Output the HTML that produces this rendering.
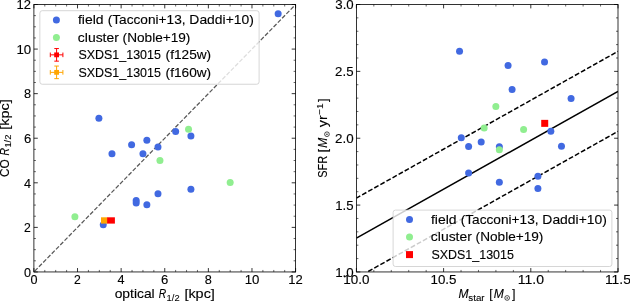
<!DOCTYPE html>
<html><head><meta charset="utf-8"><title>figure</title>
<style>
html,body{margin:0;padding:0;background:#fff;}
svg{display:block;font-family:"Liberation Sans",sans-serif;will-change:transform;}
</style></head>
<body>
<svg width="630" height="304" viewBox="0 0 630 304">
<rect width="630" height="304" fill="#fff"/>
<rect x="33.9" y="4.5" width="261.70" height="267.45" fill="#fff"/>
<path d="M33.90 271.95L295.60 4.50" stroke="#585858" stroke-width="1.25" stroke-dasharray="4.25 1.85" stroke-dashoffset="5.0" fill="none"/>
<circle cx="278.15" cy="13.64" r="3.5" fill="#4169e1"/>
<circle cx="98.89" cy="118.14" r="3.5" fill="#4169e1"/>
<circle cx="111.97" cy="153.71" r="3.5" fill="#4169e1"/>
<circle cx="131.60" cy="144.82" r="3.5" fill="#4169e1"/>
<circle cx="142.94" cy="153.71" r="3.5" fill="#4169e1"/>
<circle cx="146.87" cy="140.37" r="3.5" fill="#4169e1"/>
<circle cx="157.99" cy="147.04" r="3.5" fill="#4169e1"/>
<circle cx="175.65" cy="131.48" r="3.5" fill="#4169e1"/>
<circle cx="190.92" cy="135.93" r="3.5" fill="#4169e1"/>
<circle cx="136.18" cy="200.40" r="3.5" fill="#4169e1"/>
<circle cx="136.18" cy="203.07" r="3.5" fill="#4169e1"/>
<circle cx="146.87" cy="204.85" r="3.5" fill="#4169e1"/>
<circle cx="157.99" cy="193.73" r="3.5" fill="#4169e1"/>
<circle cx="190.92" cy="189.29" r="3.5" fill="#4169e1"/>
<circle cx="103.25" cy="224.86" r="3.5" fill="#4169e1"/>
<circle cx="74.90" cy="216.63" r="3.5" fill="#90ee90"/>
<circle cx="159.95" cy="160.38" r="3.5" fill="#90ee90"/>
<circle cx="188.52" cy="129.26" r="3.5" fill="#90ee90"/>
<circle cx="230.18" cy="182.62" r="3.5" fill="#90ee90"/>
<rect x="101.0" y="217.3" width="6.4" height="6.3" fill="#ffa500"/>
<rect x="107.1" y="217.3" width="7.8" height="6.3" fill="#ff0000"/>
<path d="M33.90 271.95v-3.9M33.90 4.50v3.9M77.52 271.95v-3.9M77.52 4.50v3.9M121.13 271.95v-3.9M121.13 4.50v3.9M164.75 271.95v-3.9M164.75 4.50v3.9M208.37 271.95v-3.9M208.37 4.50v3.9M251.98 271.95v-3.9M251.98 4.50v3.9M295.60 271.95v-3.9M295.60 4.50v3.9M33.90 271.95h3.9M295.60 271.95h-3.9M33.90 227.38h3.9M295.60 227.38h-3.9M33.90 182.80h3.9M295.60 182.80h-3.9M33.90 138.22h3.9M295.60 138.22h-3.9M33.90 93.65h3.9M295.60 93.65h-3.9M33.90 49.08h3.9M295.60 49.08h-3.9M33.90 4.50h3.9M295.60 4.50h-3.9" stroke="#000" stroke-width="0.8" fill="none"/>
<path d="M44.80 271.95v-2.0M44.80 4.50v2.0M55.71 271.95v-2.0M55.71 4.50v2.0M66.61 271.95v-2.0M66.61 4.50v2.0M88.42 271.95v-2.0M88.42 4.50v2.0M99.33 271.95v-2.0M99.33 4.50v2.0M110.23 271.95v-2.0M110.23 4.50v2.0M132.04 271.95v-2.0M132.04 4.50v2.0M142.94 271.95v-2.0M142.94 4.50v2.0M153.85 271.95v-2.0M153.85 4.50v2.0M175.65 271.95v-2.0M175.65 4.50v2.0M186.56 271.95v-2.0M186.56 4.50v2.0M197.46 271.95v-2.0M197.46 4.50v2.0M219.27 271.95v-2.0M219.27 4.50v2.0M230.18 271.95v-2.0M230.18 4.50v2.0M241.08 271.95v-2.0M241.08 4.50v2.0M262.89 271.95v-2.0M262.89 4.50v2.0M273.79 271.95v-2.0M273.79 4.50v2.0M284.70 271.95v-2.0M284.70 4.50v2.0M33.90 260.81h2.0M295.60 260.81h-2.0M33.90 249.66h2.0M295.60 249.66h-2.0M33.90 238.52h2.0M295.60 238.52h-2.0M33.90 216.23h2.0M295.60 216.23h-2.0M33.90 205.09h2.0M295.60 205.09h-2.0M33.90 193.94h2.0M295.60 193.94h-2.0M33.90 171.66h2.0M295.60 171.66h-2.0M33.90 160.51h2.0M295.60 160.51h-2.0M33.90 149.37h2.0M295.60 149.37h-2.0M33.90 127.08h2.0M295.60 127.08h-2.0M33.90 115.94h2.0M295.60 115.94h-2.0M33.90 104.79h2.0M295.60 104.79h-2.0M33.90 82.51h2.0M295.60 82.51h-2.0M33.90 71.36h2.0M295.60 71.36h-2.0M33.90 60.22h2.0M295.60 60.22h-2.0M33.90 37.93h2.0M295.60 37.93h-2.0M33.90 26.79h2.0M295.60 26.79h-2.0M33.90 15.64h2.0M295.60 15.64h-2.0" stroke="#000" stroke-width="0.6" fill="none"/>
<text x="30.41" y="283.75" font-size="12.25" textLength="7.02" lengthAdjust="spacingAndGlyphs" fill="#000" stroke="#000" stroke-width="0.12">0</text>
<text x="73.99" y="283.75" font-size="12.25" textLength="6.80" lengthAdjust="spacingAndGlyphs" fill="#000" stroke="#000" stroke-width="0.12">2</text>
<text x="117.60" y="283.75" font-size="12.25" textLength="7.06" lengthAdjust="spacingAndGlyphs" fill="#000" stroke="#000" stroke-width="0.12">4</text>
<text x="161.13" y="283.75" font-size="12.25" textLength="7.28" lengthAdjust="spacingAndGlyphs" fill="#000" stroke="#000" stroke-width="0.12">6</text>
<text x="204.82" y="283.75" font-size="12.25" textLength="7.09" lengthAdjust="spacingAndGlyphs" fill="#000" stroke="#000" stroke-width="0.12">8</text>
<text x="244.65" y="283.75" font-size="12.25" textLength="14.74" lengthAdjust="spacingAndGlyphs" fill="#000" stroke="#000" stroke-width="0.12">10</text>
<text x="288.29" y="283.75" font-size="12.25" textLength="14.48" lengthAdjust="spacingAndGlyphs" fill="#000" stroke="#000" stroke-width="0.12">12</text>
<text x="24.14" y="276.70" font-size="12.25" textLength="7.02" lengthAdjust="spacingAndGlyphs" fill="#000" stroke="#000" stroke-width="0.12">0</text>
<text x="24.10" y="232.12" font-size="12.25" textLength="6.80" lengthAdjust="spacingAndGlyphs" fill="#000" stroke="#000" stroke-width="0.12">2</text>
<text x="24.10" y="187.55" font-size="12.25" textLength="7.06" lengthAdjust="spacingAndGlyphs" fill="#000" stroke="#000" stroke-width="0.12">4</text>
<text x="24.01" y="142.97" font-size="12.25" textLength="7.28" lengthAdjust="spacingAndGlyphs" fill="#000" stroke="#000" stroke-width="0.12">6</text>
<text x="24.08" y="98.40" font-size="12.25" textLength="7.09" lengthAdjust="spacingAndGlyphs" fill="#000" stroke="#000" stroke-width="0.12">8</text>
<text x="16.49" y="53.83" font-size="12.25" textLength="14.74" lengthAdjust="spacingAndGlyphs" fill="#000" stroke="#000" stroke-width="0.12">10</text>
<text x="16.50" y="9.25" font-size="12.25" textLength="14.48" lengthAdjust="spacingAndGlyphs" fill="#000" stroke="#000" stroke-width="0.12">12</text>
<rect x="33.90" y="4.50" width="261.70" height="267.45" fill="none" stroke="#000" stroke-width="0.8"/>
<rect x="39.85" y="10.7" width="219.25" height="73.55" rx="2.4" fill="#fff" fill-opacity="0.8" stroke="#ccc" stroke-opacity="0.8" stroke-width="1"/>
<circle cx="56.4" cy="20.1" r="3.5" fill="#4169e1"/>
<circle cx="56.4" cy="37.6" r="3.5" fill="#90ee90"/>
<path d="M50.300000000000004 54.85H62.9M56.6 48.550000000000004V61.15M50.300000000000004 52.550000000000004v4.6M62.9 52.550000000000004v4.6M54.300000000000004 48.550000000000004h4.6M54.300000000000004 61.15h4.6" stroke="#ff0000" stroke-width="1.0" fill="none"/>
<rect x="54.2" y="52.45" width="4.8" height="4.8" fill="#ff0000"/>
<path d="M50.300000000000004 72.35H62.9M56.6 66.05V78.64999999999999M50.300000000000004 70.05v4.6M62.9 70.05v4.6M54.300000000000004 66.05h4.6M54.300000000000004 78.64999999999999h4.6" stroke="#ffa500" stroke-width="1.0" fill="none"/>
<rect x="54.2" y="69.94999999999999" width="4.8" height="4.8" fill="#ffa500"/>
<text x="77.93" y="24.30" font-size="12.25" textLength="25.62" lengthAdjust="spacingAndGlyphs" fill="#000" stroke="#000" stroke-width="0.12">field</text>
<text x="107.70" y="24.30" font-size="12.25" textLength="77.88" lengthAdjust="spacingAndGlyphs" fill="#000" stroke="#000" stroke-width="0.12">(Tacconi+13,</text>
<text x="189.36" y="24.30" font-size="12.25" textLength="64.48" lengthAdjust="spacingAndGlyphs" fill="#000" stroke="#000" stroke-width="0.12">Daddi+10)</text>
<text x="77.87" y="41.80" font-size="12.25" textLength="41.01" lengthAdjust="spacingAndGlyphs" fill="#000" stroke="#000" stroke-width="0.12">cluster</text>
<text x="122.62" y="41.80" font-size="12.25" textLength="67.81" lengthAdjust="spacingAndGlyphs" fill="#000" stroke="#000" stroke-width="0.12">(Noble+19)</text>
<text x="78.43" y="59.05" font-size="12.25" textLength="82.47" lengthAdjust="spacingAndGlyphs" fill="#000" stroke="#000" stroke-width="0.12">SXDS1_13015</text>
<text x="165.62" y="59.05" font-size="12.25" textLength="45.53" lengthAdjust="spacingAndGlyphs" fill="#000" stroke="#000" stroke-width="0.12">(f125w)</text>
<text x="78.43" y="76.55" font-size="12.25" textLength="82.47" lengthAdjust="spacingAndGlyphs" fill="#000" stroke="#000" stroke-width="0.12">SXDS1_13015</text>
<text x="165.62" y="76.55" font-size="12.25" textLength="45.53" lengthAdjust="spacingAndGlyphs" fill="#000" stroke="#000" stroke-width="0.12">(f160w)</text>
<text x="114.67" y="298.30" font-size="12.25" textLength="40.05" lengthAdjust="spacingAndGlyphs" fill="#000" stroke="#000" stroke-width="0.12">optical</text>
<text x="158.75" y="298.30" font-size="12.25" font-style="italic" textLength="7.47" lengthAdjust="spacingAndGlyphs" fill="#000" stroke="#000" stroke-width="0.12">R</text>
<text x="166.60" y="300.50" font-size="9.43" textLength="12.99" lengthAdjust="spacingAndGlyphs" fill="#000" stroke="#000" stroke-width="0.08">1/2</text>
<text x="184.40" y="298.30" font-size="12.25" textLength="30.49" lengthAdjust="spacingAndGlyphs" fill="#000" stroke="#000" stroke-width="0.12">[kpc]</text>
<text x="-29.66" y="138.22" font-size="12.25" transform="rotate(-90 9.20 138.22)" textLength="17.68" lengthAdjust="spacingAndGlyphs" fill="#000" stroke="#000" stroke-width="0.12">CO</text>
<text x="-8.03" y="138.22" font-size="12.25" font-style="italic" transform="rotate(-90 9.20 138.22)" textLength="7.47" lengthAdjust="spacingAndGlyphs" fill="#000" stroke="#000" stroke-width="0.12">R</text>
<text x="-0.18" y="140.42" font-size="9.43" transform="rotate(-90 9.20 138.22)" textLength="12.99" lengthAdjust="spacingAndGlyphs" fill="#000" stroke="#000" stroke-width="0.08">1/2</text>
<text x="17.62" y="138.22" font-size="12.25" transform="rotate(-90 9.20 138.22)" textLength="30.49" lengthAdjust="spacingAndGlyphs" fill="#000" stroke="#000" stroke-width="0.12">[kpc]</text>
<rect x="356.4" y="4.5" width="261.60" height="267.45" fill="#fff"/>
<clipPath id="cr"><rect x="356.4" y="4.5" width="261.60" height="267.45"/></clipPath>
<g clip-path="url(#cr)" stroke="#000" stroke-width="1.5" fill="none">
<path d="M356.40 238.08L618.00 91.35"/>
<path d="M356.40 198.06L618.00 51.33" stroke-dasharray="4.85 2.12" stroke-dashoffset="0.4"/>
<path d="M356.40 278.10L618.00 131.37" stroke-dasharray="4.85 2.12" stroke-dashoffset="0.4"/>
</g>
<circle cx="459.55" cy="51.17" r="3.5" fill="#4169e1"/>
<circle cx="508.07" cy="65.45" r="3.5" fill="#4169e1"/>
<circle cx="544.55" cy="61.98" r="3.5" fill="#4169e1"/>
<circle cx="512.08" cy="89.59" r="3.5" fill="#4169e1"/>
<circle cx="571.08" cy="98.40" r="3.5" fill="#4169e1"/>
<circle cx="550.83" cy="131.21" r="3.5" fill="#4169e1"/>
<circle cx="461.29" cy="137.75" r="3.5" fill="#4169e1"/>
<circle cx="468.62" cy="146.42" r="3.5" fill="#4169e1"/>
<circle cx="481.19" cy="141.89" r="3.5" fill="#4169e1"/>
<circle cx="499.34" cy="146.69" r="3.5" fill="#4169e1"/>
<circle cx="561.48" cy="146.29" r="3.5" fill="#4169e1"/>
<circle cx="468.62" cy="173.10" r="3.5" fill="#4169e1"/>
<circle cx="499.34" cy="182.17" r="3.5" fill="#4169e1"/>
<circle cx="537.91" cy="176.30" r="3.5" fill="#4169e1"/>
<circle cx="537.91" cy="188.44" r="3.5" fill="#4169e1"/>
<circle cx="495.85" cy="106.53" r="3.5" fill="#90ee90"/>
<circle cx="484.16" cy="128.01" r="3.5" fill="#90ee90"/>
<circle cx="523.60" cy="129.61" r="3.5" fill="#90ee90"/>
<circle cx="499.34" cy="149.76" r="3.5" fill="#90ee90"/>
<rect x="541.22" y="119.86" width="7" height="7" fill="#ff0000"/>
<path d="M356.40 271.95v-3.9M356.40 4.50v3.9M443.60 271.95v-3.9M443.60 4.50v3.9M530.80 271.95v-3.9M530.80 4.50v3.9M618.00 271.95v-3.9M618.00 4.50v3.9M356.40 271.95h3.9M618.00 271.95h-3.9M356.40 205.09h3.9M618.00 205.09h-3.9M356.40 138.22h3.9M618.00 138.22h-3.9M356.40 71.36h3.9M618.00 71.36h-3.9M356.40 4.50h3.9M618.00 4.50h-3.9" stroke="#000" stroke-width="0.8" fill="none"/>
<path d="M373.84 271.95v-2.0M373.84 4.50v2.0M391.28 271.95v-2.0M391.28 4.50v2.0M408.72 271.95v-2.0M408.72 4.50v2.0M426.16 271.95v-2.0M426.16 4.50v2.0M461.04 271.95v-2.0M461.04 4.50v2.0M478.48 271.95v-2.0M478.48 4.50v2.0M495.92 271.95v-2.0M495.92 4.50v2.0M513.36 271.95v-2.0M513.36 4.50v2.0M548.24 271.95v-2.0M548.24 4.50v2.0M565.68 271.95v-2.0M565.68 4.50v2.0M583.12 271.95v-2.0M583.12 4.50v2.0M600.56 271.95v-2.0M600.56 4.50v2.0M356.40 258.58h2.0M618.00 258.58h-2.0M356.40 245.20h2.0M618.00 245.20h-2.0M356.40 231.83h2.0M618.00 231.83h-2.0M356.40 218.46h2.0M618.00 218.46h-2.0M356.40 191.71h2.0M618.00 191.71h-2.0M356.40 178.34h2.0M618.00 178.34h-2.0M356.40 164.97h2.0M618.00 164.97h-2.0M356.40 151.60h2.0M618.00 151.60h-2.0M356.40 124.85h2.0M618.00 124.85h-2.0M356.40 111.48h2.0M618.00 111.48h-2.0M356.40 98.11h2.0M618.00 98.11h-2.0M356.40 84.73h2.0M618.00 84.73h-2.0M356.40 57.99h2.0M618.00 57.99h-2.0M356.40 44.62h2.0M618.00 44.62h-2.0M356.40 31.25h2.0M618.00 31.25h-2.0M356.40 17.87h2.0M618.00 17.87h-2.0" stroke="#000" stroke-width="0.6" fill="none"/>
<text x="343.33" y="283.75" font-size="12.25" textLength="26.17" lengthAdjust="spacingAndGlyphs" fill="#000" stroke="#000" stroke-width="0.12">10.0</text>
<text x="430.54" y="283.75" font-size="12.25" textLength="25.96" lengthAdjust="spacingAndGlyphs" fill="#000" stroke="#000" stroke-width="0.12">10.5</text>
<text x="517.69" y="283.75" font-size="12.25" textLength="26.25" lengthAdjust="spacingAndGlyphs" fill="#000" stroke="#000" stroke-width="0.12">11.0</text>
<text x="604.90" y="283.75" font-size="12.25" textLength="26.04" lengthAdjust="spacingAndGlyphs" fill="#000" stroke="#000" stroke-width="0.12">11.5</text>
<text x="335.17" y="276.70" font-size="12.25" textLength="18.54" lengthAdjust="spacingAndGlyphs" fill="#000" stroke="#000" stroke-width="0.12">1.0</text>
<text x="335.18" y="209.84" font-size="12.25" textLength="18.32" lengthAdjust="spacingAndGlyphs" fill="#000" stroke="#000" stroke-width="0.12">1.5</text>
<text x="335.10" y="142.97" font-size="12.25" textLength="18.61" lengthAdjust="spacingAndGlyphs" fill="#000" stroke="#000" stroke-width="0.12">2.0</text>
<text x="335.10" y="76.11" font-size="12.25" textLength="18.40" lengthAdjust="spacingAndGlyphs" fill="#000" stroke="#000" stroke-width="0.12">2.5</text>
<text x="335.27" y="9.25" font-size="12.25" textLength="18.43" lengthAdjust="spacingAndGlyphs" fill="#000" stroke="#000" stroke-width="0.12">3.0</text>
<rect x="356.40" y="4.50" width="261.60" height="267.45" fill="none" stroke="#000" stroke-width="0.8"/>
<rect x="393.10" y="210.10" width="218.8" height="56.4" rx="2.4" fill="#fff" fill-opacity="0.8" stroke="#ccc" stroke-opacity="0.8" stroke-width="1"/>
<circle cx="409.5" cy="219.6" r="3.5" fill="#4169e1"/>
<circle cx="409.5" cy="237.1" r="3.5" fill="#90ee90"/>
<rect x="406.0" y="251.1" width="7" height="7" fill="#ff0000"/>
<text x="430.93" y="223.80" font-size="12.25" textLength="25.62" lengthAdjust="spacingAndGlyphs" fill="#000" stroke="#000" stroke-width="0.12">field</text>
<text x="460.70" y="223.80" font-size="12.25" textLength="77.88" lengthAdjust="spacingAndGlyphs" fill="#000" stroke="#000" stroke-width="0.12">(Tacconi+13,</text>
<text x="542.36" y="223.80" font-size="12.25" textLength="64.48" lengthAdjust="spacingAndGlyphs" fill="#000" stroke="#000" stroke-width="0.12">Daddi+10)</text>
<text x="430.87" y="241.30" font-size="12.25" textLength="41.01" lengthAdjust="spacingAndGlyphs" fill="#000" stroke="#000" stroke-width="0.12">cluster</text>
<text x="475.62" y="241.30" font-size="12.25" textLength="67.81" lengthAdjust="spacingAndGlyphs" fill="#000" stroke="#000" stroke-width="0.12">(Noble+19)</text>
<text x="431.43" y="258.80" font-size="12.25" textLength="82.47" lengthAdjust="spacingAndGlyphs" fill="#000" stroke="#000" stroke-width="0.12">SXDS1_13015</text>
<text x="458.62" y="298.30" font-size="12.25" font-style="italic" textLength="10.05" lengthAdjust="spacingAndGlyphs" fill="#000" stroke="#000" stroke-width="0.12">M</text>
<text x="468.35" y="300.50" font-size="9.26" textLength="16.27" lengthAdjust="spacingAndGlyphs" fill="#000" stroke="#000" stroke-width="0.08">star</text>
<text x="489.24" y="298.30" font-size="12.25" textLength="3.40" lengthAdjust="spacingAndGlyphs" fill="#000" stroke="#000" stroke-width="0.12">[</text>
<text x="493.74" y="298.30" font-size="12.25" font-style="italic" textLength="10.05" lengthAdjust="spacingAndGlyphs" fill="#000" stroke="#000" stroke-width="0.12">M</text>
<g><circle cx="507.15" cy="297.95" r="2.35" fill="none" stroke="#000" stroke-width="0.7"/><circle cx="507.15" cy="297.95" r="0.7" fill="#000"/></g>
<text x="512.14" y="298.30" font-size="12.25" textLength="3.47" lengthAdjust="spacingAndGlyphs" fill="#000" stroke="#000" stroke-width="0.12">]</text>
<text x="287.70" y="138.22" font-size="12.25" transform="rotate(-90 327.30 138.22)" textLength="21.88" lengthAdjust="spacingAndGlyphs" fill="#000" stroke="#000" stroke-width="0.12">SFR</text>
<text x="313.40" y="138.22" font-size="12.25" transform="rotate(-90 327.30 138.22)" textLength="3.40" lengthAdjust="spacingAndGlyphs" fill="#000" stroke="#000" stroke-width="0.12">[</text>
<text x="317.90" y="138.22" font-size="12.25" font-style="italic" transform="rotate(-90 327.30 138.22)" textLength="10.05" lengthAdjust="spacingAndGlyphs" fill="#000" stroke="#000" stroke-width="0.12">M</text>
<g transform="rotate(-90 327.30 138.22)"><circle cx="331.30" cy="137.88" r="2.35" fill="none" stroke="#000" stroke-width="0.7"/><circle cx="331.30" cy="137.88" r="0.7" fill="#000"/></g>
<text x="338.39" y="138.22" font-size="12.25" transform="rotate(-90 327.30 138.22)" textLength="12.00" lengthAdjust="spacingAndGlyphs" fill="#000" stroke="#000" stroke-width="0.12">yr</text>
<text x="350.50" y="133.82" font-size="9.60" transform="rotate(-90 327.30 138.22)" textLength="11.76" lengthAdjust="spacingAndGlyphs" fill="#000" stroke="#000" stroke-width="0.08">−1</text>
<text x="363.57" y="138.22" font-size="12.25" transform="rotate(-90 327.30 138.22)" textLength="3.47" lengthAdjust="spacingAndGlyphs" fill="#000" stroke="#000" stroke-width="0.12">]</text>
</svg>
</body></html>
